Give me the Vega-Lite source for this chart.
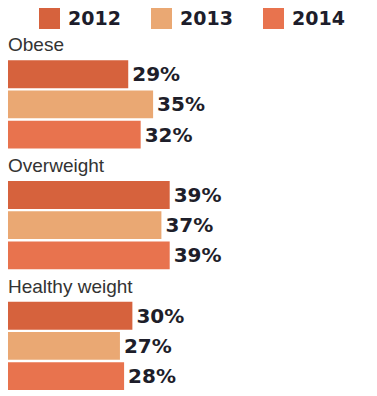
{
  "$schema": "https://vega.github.io/schema/vega-lite/v6.json",
  "width": 369,
  "height": 390,
  "autosize": {"type": "none"},
  "padding": {"left": 8, "top": 0, "right": 0, "bottom": 6},
  "background": "white",
  "config": {"view": {"stroke": null}},
  "datasets": {
    "bars": [
      {"category": "Obese", "year": "2012", "value": 0.29, "slot": "Obese 2012"},
      {"category": "Obese", "year": "2013", "value": 0.35, "slot": "Obese 2013"},
      {"category": "Obese", "year": "2014", "value": 0.32, "slot": "Obese 2014"},
      {"category": "Overweight", "year": "2012", "value": 0.39, "slot": "Overweight 2012"},
      {"category": "Overweight", "year": "2013", "value": 0.37, "slot": "Overweight 2013"},
      {"category": "Overweight", "year": "2014", "value": 0.39, "slot": "Overweight 2014"},
      {"category": "Healthy weight", "year": "2012", "value": 0.30, "slot": "Healthy weight 2012"},
      {"category": "Healthy weight", "year": "2013", "value": 0.27, "slot": "Healthy weight 2013"},
      {"category": "Healthy weight", "year": "2014", "value": 0.28, "slot": "Healthy weight 2014"}
    ],
    "labels": [
      {"label": "Obese", "slot": "Obese", "x": 0},
      {"label": "Overweight", "slot": "Overweight", "x": 0},
      {"label": "Healthy weight", "slot": "Healthy weight", "x": 0}
    ]
  },
  "layer": [
    {
      "data": {"name": "bars"},
      "mark": {"type": "bar"},
      "encoding": {
        "y": {
          "field": "slot", "type": "nominal", "axis": null,
          "scale": {
            "domain": ["legend", "Obese", "Obese 2012", "Obese 2013", "Obese 2014", "Overweight", "Overweight 2012", "Overweight 2013", "Overweight 2014", "Healthy weight", "Healthy weight 2012", "Healthy weight 2013", "Healthy weight 2014"],
            "paddingInner": 0.08, "paddingOuter": 0
          },
          "sort": null
        },
        "x": {"field": "value", "type": "quantitative", "axis": null, "scale": {"domain": [0, 0.89], "nice": false}},
        "color": {
          "field": "year", "type": "nominal",
          "scale": {"domain": ["2012", "2013", "2014"], "range": ["#d6623d", "#eaa873", "#e8734e"]},
          "legend": {
            "orient": "none", "direction": "horizontal", "title": null,
            "legendX": 31, "legendY": 8,
            "symbolType": "square", "symbolSize": 441, "symbolStrokeWidth": 0, "symbolOpacity": 1,
            "labelFont": "DejaVu Sans", "labelFontSize": 19, "labelFontWeight": "bold", "labelColor": "#1d1d2b",
            "labelOffset": 8, "columnPadding": 30, "padding": 0
          }
        }
      }
    },
    {
      "data": {"name": "bars"},
      "mark": {"type": "text", "align": "left", "baseline": "middle", "dx": 4, "dy": 1, "font": "DejaVu Sans", "fontSize": 20, "fontWeight": "bold", "color": "#1e1e2a"},
      "encoding": {
        "y": {"field": "slot", "type": "nominal", "sort": null},
        "x": {"field": "value", "type": "quantitative"},
        "text": {"field": "value", "type": "quantitative", "format": ".0%"}
      }
    },
    {
      "data": {"name": "labels"},
      "mark": {"type": "text", "align": "left", "baseline": "middle", "dy": 1, "font": "Liberation Sans", "fontSize": 19, "color": "#333333"},
      "encoding": {
        "y": {"field": "slot", "type": "nominal", "sort": null},
        "x": {"field": "x", "type": "quantitative"},
        "text": {"field": "label"}
      }
    }
  ]
}
